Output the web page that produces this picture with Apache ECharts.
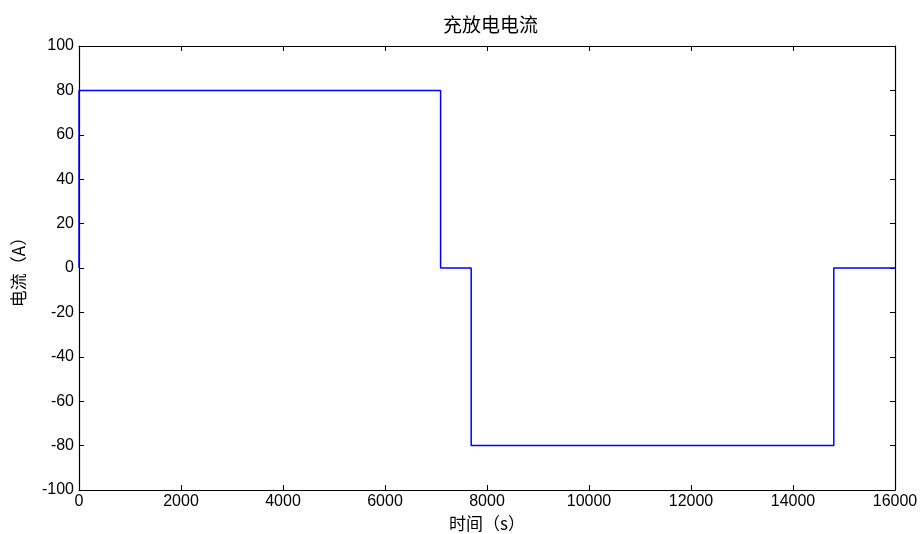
<!DOCTYPE html>
<html>
<head>
<meta charset="utf-8">
<script src="https://cdn.jsdelivr.net/npm/echarts@6/dist/echarts.min.js"></script>
<style>
html,body{margin:0;padding:0;background:#fff;}
#chart{width:921px;height:534px;}
</style>
</head>
<body>
<div id="chart"></div>
<script>
// Charge/discharge current profile: step changes in time (s) vs current (A)
const timeSec = [0, 0, 7090, 7090, 7690, 7690, 14800, 14800, 16000];
const currentA = [0, 80, 80, 0, 0, -80, -80, 0, 0];

const titleText = '充放电电流';
const xName = '时间（s）';
const yName = '电流（A）';

const xRange = [0, 16000, 2000];
const yRange = [-100, 100, 20];

const labelFont = 'Liberation Sans, Arial, sans-serif';
const cjkFont = 'Noto Sans CJK SC, sans-serif';

const points = timeSec.map((t, i) => [t, currentA[i]]);

// Boxed axes: lines on all four sides, ticks pointing inward
function axisCommon() {
  return {
    axisLine: { show: true, onZero: false, lineStyle: { color: '#000', width: 1.2 } },
    axisTick: { show: true, inside: true, length: 5, lineStyle: { color: '#000' } },
    splitLine: { show: false },
  };
}

const plain = v => String(v);

const chart = echarts.init(document.getElementById('chart'));
chart.setOption({
  animation: false,
  backgroundColor: '#fff',
  title: {
    text: titleText,
    left: 438, top: 10,
    textStyle: { fontFamily: cjkFont, fontSize: 19, fontWeight: 'normal', color: '#000' }
  },
  grid: { left: 79, right: 26, top: 46, bottom: 44, outerBoundsMode: 'none' },
  xAxis: [
    Object.assign({
      type: 'value', position: 'bottom',
      min: xRange[0], max: xRange[1], interval: xRange[2],
      name: xName, nameLocation: 'middle', nameGap: 23,
      nameTextStyle: { fontFamily: cjkFont, fontSize: 17, color: '#000' },
      axisLabel: { fontFamily: labelFont, fontSize: 16, color: '#000', margin: 4, formatter: plain },
    }, axisCommon()),
    Object.assign({
      type: 'value', position: 'top',
      min: xRange[0], max: xRange[1], interval: xRange[2],
      axisLabel: { show: false },
    }, axisCommon())
  ],
  yAxis: [
    Object.assign({
      type: 'value', position: 'left',
      min: yRange[0], max: yRange[1], interval: yRange[2],
      name: yName, nameLocation: 'middle', nameGap: 52, nameRotate: 90,
      nameTextStyle: { fontFamily: cjkFont, fontSize: 17, color: '#000' },
      axisLabel: { fontFamily: labelFont, fontSize: 16, color: '#000', margin: 5, formatter: plain },
    }, axisCommon()),
    Object.assign({
      type: 'value', position: 'right',
      min: yRange[0], max: yRange[1], interval: yRange[2],
      axisLabel: { show: false },
    }, axisCommon())
  ],
  series: [{
    type: 'line',
    data: points,
    showSymbol: false,
    lineStyle: { color: '#0000ff', width: 1.5 },
    z: 1
  }]
});
</script>
</body>
</html>
